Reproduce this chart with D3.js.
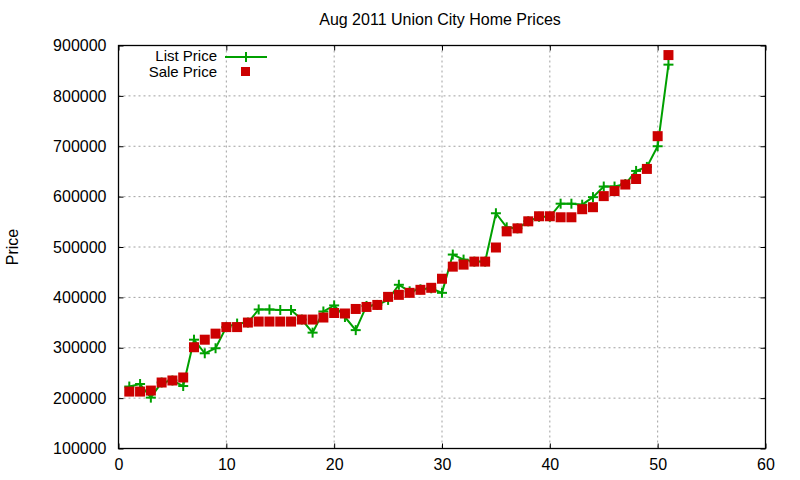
<!DOCTYPE html>
<html><head><meta charset="utf-8">
<script src="https://cdn.jsdelivr.net/npm/d3@7"></script>
<style>body{margin:0;background:#fff}svg{display:block}text{font-family:"Liberation Sans",Arial,sans-serif;fill:#000}</style>
</head><body><svg id="c" width="800" height="480"></svg>
<script>
const xs = d3.range(1, 52);
const listPrice = [223000,228000,201000,231000,235000,224000,316000,289000,299000,341000,
  348000,350000,376000,376000,375000,375000,356000,330000,372000,384000,
  361000,335000,383000,385000,395000,425000,412000,416000,418000,409000,
  485000,475000,471000,471000,567000,539000,537000,551000,560000,560000,
  586000,586000,584000,599000,620000,620000,625000,651000,659000,700000,862000];
const salePrice = [213000,213000,215000,231000,235000,241000,301000,316000,328000,341000,
  341000,350000,352000,352000,352000,352000,356000,356000,360000,369000,
  368000,377000,381000,385000,401000,405000,409000,415000,419000,437000,
  461000,465000,471000,471000,499000,531000,537000,551000,561000,561000,
  559000,559000,575000,579000,601000,611000,624000,635000,655000,720000,881000];
const xTicks = [0,10,20,30,40,50,60];
const yTicks = [100000,200000,300000,400000,500000,600000,700000,800000,900000];
const title = "Aug 2011 Union City Home Prices";
const yLabel = "Price";
const legendLabels = ["List Price","Sale Price"];

const svg = d3.select("#c");
const L=118.5, R=765.5, T=45.5, B=448.5;
const x = d3.scaleLinear().domain([0,60]).range([L,R]);
const y = d3.scaleLinear().domain([100000,900000]).range([B,T]);
const green="#00a000", red="#cc0000";

// grid
const g = svg.append("g");
g.selectAll(".gx").data(xTicks.slice(1,-1)).join("line")
  .attr("x1",d=>x(d)).attr("x2",d=>x(d)).attr("y1",T).attr("y2",B)
  .attr("stroke","#a0a0a0").attr("stroke-dasharray","2,3");
g.selectAll(".gy").data(yTicks.slice(1,-1)).join("line")
  .attr("x1",L).attr("x2",R).attr("y1",d=>y(d)).attr("y2",d=>y(d))
  .attr("stroke","#a0a0a0").attr("stroke-dasharray","2,3");

// axes (inward ticks, mirrored)
const ax = svg.append("g");
ax.append("g").attr("transform",`translate(0,${B})`)
  .call(d3.axisBottom(x).tickValues(xTicks).tickSize(-5).tickPadding(10).tickFormat(d3.format("d")));
ax.append("g").attr("transform",`translate(0,${T})`)
  .call(d3.axisTop(x).tickValues(xTicks).tickSize(-5).tickFormat(""));
ax.append("g").attr("transform",`translate(${L},0)`)
  .call(d3.axisLeft(y).tickValues(yTicks).tickSize(-5).tickPadding(12).tickFormat(d3.format("d")));
ax.append("g").attr("transform",`translate(${R},0)`)
  .call(d3.axisRight(y).tickValues(yTicks).tickSize(-5).tickFormat(""));
ax.selectAll(".domain").remove();
ax.selectAll(".tick line").attr("stroke","#000").attr("stroke-width",1);
ax.selectAll(".tick text").attr("font-size","16px").attr("font-family","'Liberation Sans',Arial,sans-serif").attr("fill","#000");
svg.append("rect").attr("x",L).attr("y",T).attr("width",R-L).attr("height",B-T)
  .attr("fill","none").attr("stroke","#000").attr("stroke-width",1.3);

// list line
const pts = xs.map((d,i)=>[d,listPrice[i]]);
svg.append("path").datum(pts)
  .attr("d",d3.line().x(d=>x(d[0])).y(d=>y(d[1])))
  .attr("fill","none").attr("stroke",green).attr("stroke-width",2);
const plus = (sel,cx,cy)=>{
  sel.append("line").attr("x1",cx-5).attr("x2",cx+5).attr("y1",cy).attr("y2",cy).attr("stroke",green).attr("stroke-width",2);
  sel.append("line").attr("x1",cx).attr("x2",cx).attr("y1",cy-5).attr("y2",cy+5).attr("stroke",green).attr("stroke-width",2);
};
const pg = svg.append("g");
pts.forEach(d=>plus(pg,x(d[0]),y(d[1])));

// sale squares
svg.append("g").selectAll("rect").data(xs.map((d,i)=>[d,salePrice[i]])).join("rect")
  .attr("x",d=>x(d[0])-5).attr("y",d=>y(d[1])-5).attr("width",10).attr("height",10)
  .attr("fill",red);

// title and label
svg.append("text").attr("x",440).attr("y",25).attr("text-anchor","middle")
  .attr("font-size","16px").text(title);
svg.append("text").attr("transform","translate(18,247) rotate(-90)").attr("text-anchor","middle")
  .attr("font-size","16px").text(yLabel);

// legend
const lg = svg.append("g");
lg.append("text").attr("x",217).attr("y",61).attr("text-anchor","end").attr("font-size","15px").text(legendLabels[0]);
lg.append("text").attr("x",217).attr("y",77).attr("text-anchor","end").attr("font-size","15px").text(legendLabels[1]);
lg.append("line").attr("x1",225).attr("x2",267).attr("y1",57).attr("y2",57).attr("stroke",green).attr("stroke-width",2);
plus(lg,246,57);
lg.append("rect").attr("x",241).attr("y",67).attr("width",9).attr("height",9).attr("fill",red);
</script></body></html>
